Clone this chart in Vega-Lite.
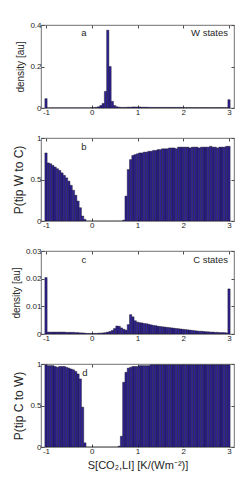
{
  "$schema": "https://vega.github.io/schema/vega-lite/v6.json",
  "padding": {"top": 20, "left": 11, "right": 6, "bottom": 5},
  "spacing": 30,
  "bounds": "flush",
  "config": {
    "view": {"stroke": "#4d4d4d", "strokeWidth": 0.8},
    "font": "Liberation Sans",
    "axis": {"grid": false, "domain": false, "tickColor": "#4d4d4d", "tickSize": -3, "labelFontSize": 8, "labelColor": "#262626", "labelPadding": 3, "titleFontSize": 10, "titleFontWeight": "normal", "titleColor": "#262626", "labelFont": "Liberation Sans", "titleFont": "Liberation Sans"},
    "text": {"font": "Liberation Sans", "fontSize": 9.5, "color": "#262626"}
  },
  "data": {"values": [
    {"x0":-1.025,"x1":-0.975,"w":0.045,"pwc":0.82,"cd":0.0204,"pcw":0.99},
    {"x0":-0.975,"x1":-0.925,"w":0.001,"pwc":0.70,"cd":0.0007,"pcw":0.98},
    {"x0":-0.925,"x1":-0.875,"w":0.001,"pwc":0.69,"cd":0.0007,"pcw":0.98},
    {"x0":-0.875,"x1":-0.825,"w":0.001,"pwc":0.67,"cd":0.0007,"pcw":0.98},
    {"x0":-0.825,"x1":-0.775,"w":0.001,"pwc":0.65,"cd":0.0007,"pcw":0.97},
    {"x0":-0.775,"x1":-0.725,"w":0.001,"pwc":0.63,"cd":0.0007,"pcw":0.96},
    {"x0":-0.725,"x1":-0.675,"w":0.001,"pwc":0.61,"cd":0.0007,"pcw":0.97},
    {"x0":-0.675,"x1":-0.625,"w":0.001,"pwc":0.58,"cd":0.0007,"pcw":0.97},
    {"x0":-0.625,"x1":-0.575,"w":0.001,"pwc":0.55,"cd":0.0007,"pcw":0.97},
    {"x0":-0.575,"x1":-0.525,"w":0.001,"pwc":0.52,"cd":0.0006,"pcw":0.96},
    {"x0":-0.525,"x1":-0.475,"w":0.001,"pwc":0.48,"cd":0.0006,"pcw":0.95},
    {"x0":-0.475,"x1":-0.425,"w":0.001,"pwc":0.43,"cd":0.0006,"pcw":0.94},
    {"x0":-0.425,"x1":-0.375,"w":0.001,"pwc":0.37,"cd":0.0006,"pcw":0.93},
    {"x0":-0.375,"x1":-0.325,"w":0.001,"pwc":0.31,"cd":0.0005,"pcw":0.91},
    {"x0":-0.325,"x1":-0.275,"w":0.001,"pwc":0.24,"cd":0.0005,"pcw":0.88},
    {"x0":-0.275,"x1":-0.225,"w":0.001,"pwc":0.16,"cd":0.0004,"pcw":0.82},
    {"x0":-0.225,"x1":-0.175,"w":0.001,"pwc":0.06,"cd":0.0004,"pcw":0.48},
    {"x0":-0.175,"x1":-0.125,"w":0.001,"pwc":0.02,"cd":0.0003,"pcw":0.05},
    {"x0":-0.125,"x1":-0.075,"w":0.001,"pwc":0,"cd":0.0002,"pcw":0},
    {"x0":-0.075,"x1":-0.025,"w":0.001,"pwc":0,"cd":0.0002,"pcw":0},
    {"x0":-0.025,"x1":0.025,"w":0.002,"pwc":0,"cd":0.0002,"pcw":0},
    {"x0":0.025,"x1":0.075,"w":0.002,"pwc":0,"cd":0.0002,"pcw":0},
    {"x0":0.075,"x1":0.125,"w":0.003,"pwc":0,"cd":0.0002,"pcw":0},
    {"x0":0.125,"x1":0.175,"w":0.006,"pwc":0,"cd":0.0003,"pcw":0},
    {"x0":0.175,"x1":0.225,"w":0.012,"pwc":0,"cd":0.0003,"pcw":0},
    {"x0":0.225,"x1":0.275,"w":0.022,"pwc":0,"cd":0.0004,"pcw":0},
    {"x0":0.275,"x1":0.325,"w":0.08,"pwc":0,"cd":0.0005,"pcw":0},
    {"x0":0.325,"x1":0.375,"w":0.375,"pwc":0,"cd":0.0007,"pcw":0},
    {"x0":0.375,"x1":0.425,"w":0.2,"pwc":0,"cd":0.0009,"pcw":0},
    {"x0":0.425,"x1":0.475,"w":0.032,"pwc":0,"cd":0.0013,"pcw":0},
    {"x0":0.475,"x1":0.525,"w":0.012,"pwc":0,"cd":0.0020,"pcw":0},
    {"x0":0.525,"x1":0.575,"w":0.006,"pwc":0,"cd":0.0029,"pcw":0},
    {"x0":0.575,"x1":0.625,"w":0.004,"pwc":0,"cd":0.0028,"pcw":0.01},
    {"x0":0.625,"x1":0.675,"w":0.003,"pwc":0,"cd":0.0022,"pcw":0.13},
    {"x0":0.675,"x1":0.725,"w":0.003,"pwc":0.01,"cd":0.0017,"pcw":0.78},
    {"x0":0.725,"x1":0.775,"w":0.003,"pwc":0.30,"cd":0.0014,"pcw":0.90},
    {"x0":0.775,"x1":0.825,"w":0.004,"pwc":0.62,"cd":0.0034,"pcw":0.95},
    {"x0":0.825,"x1":0.875,"w":0.004,"pwc":0.74,"cd":0.0070,"pcw":0.96},
    {"x0":0.875,"x1":0.925,"w":0.005,"pwc":0.79,"cd":0.0062,"pcw":0.97},
    {"x0":0.925,"x1":0.975,"w":0.005,"pwc":0.80,"cd":0.0048,"pcw":0.97},
    {"x0":0.975,"x1":1.025,"w":0.005,"pwc":0.81,"cd":0.0043,"pcw":0.97},
    {"x0":1.025,"x1":1.075,"w":0.005,"pwc":0.82,"cd":0.0041,"pcw":0.98},
    {"x0":1.075,"x1":1.125,"w":0.004,"pwc":0.82,"cd":0.0040,"pcw":0.98},
    {"x0":1.125,"x1":1.175,"w":0.004,"pwc":0.83,"cd":0.0038,"pcw":0.98},
    {"x0":1.175,"x1":1.225,"w":0.004,"pwc":0.83,"cd":0.0037,"pcw":0.98},
    {"x0":1.225,"x1":1.275,"w":0.003,"pwc":0.84,"cd":0.0035,"pcw":0.98},
    {"x0":1.275,"x1":1.325,"w":0.003,"pwc":0.84,"cd":0.0033,"pcw":0.99},
    {"x0":1.325,"x1":1.375,"w":0.003,"pwc":0.85,"cd":0.0031,"pcw":0.99},
    {"x0":1.375,"x1":1.425,"w":0.003,"pwc":0.85,"cd":0.0030,"pcw":0.99},
    {"x0":1.425,"x1":1.475,"w":0.003,"pwc":0.86,"cd":0.0028,"pcw":0.99},
    {"x0":1.475,"x1":1.525,"w":0.003,"pwc":0.86,"cd":0.0027,"pcw":0.99},
    {"x0":1.525,"x1":1.575,"w":0.003,"pwc":0.87,"cd":0.0026,"pcw":0.99},
    {"x0":1.575,"x1":1.625,"w":0.003,"pwc":0.87,"cd":0.0025,"pcw":0.99},
    {"x0":1.625,"x1":1.675,"w":0.003,"pwc":0.87,"cd":0.0024,"pcw":0.99},
    {"x0":1.675,"x1":1.725,"w":0.003,"pwc":0.88,"cd":0.0023,"pcw":0.99},
    {"x0":1.725,"x1":1.775,"w":0.003,"pwc":0.88,"cd":0.0022,"pcw":0.99},
    {"x0":1.775,"x1":1.825,"w":0.003,"pwc":0.88,"cd":0.0021,"pcw":0.99},
    {"x0":1.825,"x1":1.875,"w":0.003,"pwc":0.87,"cd":0.0020,"pcw":0.99},
    {"x0":1.875,"x1":1.925,"w":0.003,"pwc":0.89,"cd":0.0019,"pcw":0.99},
    {"x0":1.925,"x1":1.975,"w":0.003,"pwc":0.89,"cd":0.0018,"pcw":0.99},
    {"x0":1.975,"x1":2.025,"w":0.002,"pwc":0.89,"cd":0.0017,"pcw":0.99},
    {"x0":2.025,"x1":2.075,"w":0.002,"pwc":0.89,"cd":0.0016,"pcw":0.99},
    {"x0":2.075,"x1":2.125,"w":0.002,"pwc":0.89,"cd":0.0015,"pcw":0.99},
    {"x0":2.125,"x1":2.175,"w":0.002,"pwc":0.88,"cd":0.0014,"pcw":0.99},
    {"x0":2.175,"x1":2.225,"w":0.002,"pwc":0.89,"cd":0.0013,"pcw":0.99},
    {"x0":2.225,"x1":2.275,"w":0.002,"pwc":0.89,"cd":0.0012,"pcw":0.99},
    {"x0":2.275,"x1":2.325,"w":0.002,"pwc":0.89,"cd":0.0011,"pcw":0.99},
    {"x0":2.325,"x1":2.375,"w":0.002,"pwc":0.88,"cd":0.0010,"pcw":0.99},
    {"x0":2.375,"x1":2.425,"w":0.002,"pwc":0.89,"cd":0.0010,"pcw":0.99},
    {"x0":2.425,"x1":2.475,"w":0.002,"pwc":0.89,"cd":0.0009,"pcw":0.99},
    {"x0":2.475,"x1":2.525,"w":0.002,"pwc":0.89,"cd":0.0008,"pcw":0.99},
    {"x0":2.525,"x1":2.575,"w":0.002,"pwc":0.89,"cd":0.0008,"pcw":0.99},
    {"x0":2.575,"x1":2.625,"w":0.002,"pwc":0.90,"cd":0.0007,"pcw":0.99},
    {"x0":2.625,"x1":2.675,"w":0.002,"pwc":0.89,"cd":0.0007,"pcw":0.99},
    {"x0":2.675,"x1":2.725,"w":0.002,"pwc":0.89,"cd":0.0006,"pcw":0.99},
    {"x0":2.725,"x1":2.775,"w":0.002,"pwc":0.88,"cd":0.0006,"pcw":0.99},
    {"x0":2.775,"x1":2.825,"w":0.002,"pwc":0.89,"cd":0.0005,"pcw":0.99},
    {"x0":2.825,"x1":2.875,"w":0.002,"pwc":0.89,"cd":0.0005,"pcw":0.99},
    {"x0":2.875,"x1":2.925,"w":0.002,"pwc":0.89,"cd":0.0005,"pcw":0.99},
    {"x0":2.925,"x1":2.975,"w":0.002,"pwc":0.90,"cd":0.0004,"pcw":0.99},
    {"x0":2.975,"x1":3.025,"w":0.04,"pwc":0.90,"cd":0.0163,"pcw":0.99}
  ]},
  "vconcat": [
    {
      "width": 193, "height": 83,
      "resolve": {"axis": {"x": "independent", "y": "independent"}},
      "layer": [
        {
          "mark": {"type": "bar", "orient": "vertical", "clip": true, "fill": "#2f2196", "stroke": "#111111", "strokeWidth": 0.4},
          "encoding": {
            "x": {"field": "x0", "type": "quantitative", "scale": {"domain": [-1, 3], "nice": false, "zero": false}, "axis": {"values": [-1, 0, 1, 2, 3], "labelExpr": "'' + datum.value", "title": null}},
            "x2": {"field": "x1"},
            "y": {"field": "w", "type": "quantitative", "scale": {"domain": [0, 0.4], "nice": false}, "axis": {"values": [0, 0.2, 0.4], "labelExpr": "'' + datum.value", "title": "density [au]"}},
            "y2": {"datum": 0}
          }
        },
        {
          "data": {"values": [{}]},
          "mark": {"type": "point", "opacity": 0},
          "encoding": {
            "x": {"datum": 0, "type": "quantitative", "axis": {"orient": "top", "values": [-1, 0, 1, 2, 3], "labels": false, "title": null}},
            "y": {"datum": 0, "type": "quantitative", "axis": {"orient": "right", "values": [0, 0.2, 0.4], "labels": false, "title": null}}
          }
        },
        {
          "data": {"values": [{}]},
          "mark": {"type": "text", "align": "center", "baseline": "middle"},
          "encoding": {"x": {"datum": -0.17, "type": "quantitative", "axis": null}, "y": {"datum": 0.36, "type": "quantitative", "axis": null}, "text": {"value": "a"}}
        },
        {
          "data": {"values": [{}]},
          "mark": {"type": "text", "align": "right", "baseline": "middle", "dx": -1},
          "encoding": {"x": {"datum": 3, "type": "quantitative", "axis": null}, "y": {"datum": 0.36, "type": "quantitative", "axis": null}, "text": {"value": "W states"}}
        }
      ]
    },
    {
      "width": 193, "height": 83,
      "resolve": {"axis": {"x": "independent", "y": "independent"}},
      "layer": [
        {
          "mark": {"type": "bar", "orient": "vertical", "clip": true, "fill": "#2f2196", "stroke": "#111111", "strokeWidth": 0.4},
          "encoding": {
            "x": {"field": "x0", "type": "quantitative", "scale": {"domain": [-1, 3], "nice": false, "zero": false}, "axis": {"values": [-1, 0, 1, 2, 3], "labelExpr": "'' + datum.value", "title": null}},
            "x2": {"field": "x1"},
            "y": {"field": "pwc", "type": "quantitative", "scale": {"domain": [0, 1], "nice": false}, "axis": {"values": [0, 0.5, 1], "labelExpr": "'' + datum.value", "title": "P(tip W to C)", "titleFontSize": 12}},
            "y2": {"datum": 0}
          }
        },
        {
          "data": {"values": [{}]},
          "mark": {"type": "point", "opacity": 0},
          "encoding": {
            "x": {"datum": 0, "type": "quantitative", "axis": {"orient": "top", "values": [-1, 0, 1, 2, 3], "labels": false, "title": null}},
            "y": {"datum": 0, "type": "quantitative", "axis": {"orient": "right", "values": [0, 0.5, 1], "labels": false, "title": null}}
          }
        },
        {
          "data": {"values": [{}]},
          "mark": {"type": "text", "align": "center", "baseline": "middle"},
          "encoding": {"x": {"datum": -0.17, "type": "quantitative", "axis": null}, "y": {"datum": 0.89, "type": "quantitative", "axis": null}, "text": {"value": "b"}}
        }
      ]
    },
    {
      "width": 193, "height": 83,
      "resolve": {"axis": {"x": "independent", "y": "independent"}},
      "layer": [
        {
          "mark": {"type": "bar", "orient": "vertical", "clip": true, "fill": "#2f2196", "stroke": "#111111", "strokeWidth": 0.4},
          "encoding": {
            "x": {"field": "x0", "type": "quantitative", "scale": {"domain": [-1, 3], "nice": false, "zero": false}, "axis": {"values": [-1, 0, 1, 2, 3], "labelExpr": "'' + datum.value", "title": null}},
            "x2": {"field": "x1"},
            "y": {"field": "cd", "type": "quantitative", "scale": {"domain": [0, 0.03], "nice": false}, "axis": {"values": [0, 0.01, 0.02, 0.03], "labelExpr": "'' + datum.value", "title": "density [au]"}},
            "y2": {"datum": 0}
          }
        },
        {
          "data": {"values": [{}]},
          "mark": {"type": "point", "opacity": 0},
          "encoding": {
            "x": {"datum": 0, "type": "quantitative", "axis": {"orient": "top", "values": [-1, 0, 1, 2, 3], "labels": false, "title": null}},
            "y": {"datum": 0, "type": "quantitative", "axis": {"orient": "right", "values": [0, 0.01, 0.02, 0.03], "labels": false, "title": null}}
          }
        },
        {
          "data": {"values": [{}]},
          "mark": {"type": "text", "align": "center", "baseline": "middle"},
          "encoding": {"x": {"datum": -0.17, "type": "quantitative", "axis": null}, "y": {"datum": 0.0267, "type": "quantitative", "axis": null}, "text": {"value": "c"}}
        },
        {
          "data": {"values": [{}]},
          "mark": {"type": "text", "align": "right", "baseline": "middle", "dx": -1},
          "encoding": {"x": {"datum": 3, "type": "quantitative", "axis": null}, "y": {"datum": 0.0267, "type": "quantitative", "axis": null}, "text": {"value": "C states"}}
        }
      ]
    },
    {
      "width": 193, "height": 83,
      "resolve": {"axis": {"x": "independent", "y": "independent"}},
      "layer": [
        {
          "mark": {"type": "bar", "orient": "vertical", "clip": true, "fill": "#2f2196", "stroke": "#111111", "strokeWidth": 0.4},
          "encoding": {
            "x": {"field": "x0", "type": "quantitative", "scale": {"domain": [-1, 3], "nice": false, "zero": false}, "axis": {"values": [-1, 0, 1, 2, 3], "labelExpr": "'' + datum.value", "title": "S[CO₂,LI] [K/(Wm⁻²)]", "titleFontSize": 11}},
            "x2": {"field": "x1"},
            "y": {"field": "pcw", "type": "quantitative", "scale": {"domain": [0, 1], "nice": false}, "axis": {"values": [0, 0.5, 1], "labelExpr": "'' + datum.value", "title": "P(tip C to W)", "titleFontSize": 12}},
            "y2": {"datum": 0}
          }
        },
        {
          "data": {"values": [{}]},
          "mark": {"type": "point", "opacity": 0},
          "encoding": {
            "x": {"datum": 0, "type": "quantitative", "axis": {"orient": "top", "values": [-1, 0, 1, 2, 3], "labels": false, "title": null}},
            "y": {"datum": 0, "type": "quantitative", "axis": {"orient": "right", "values": [0, 0.5, 1], "labels": false, "title": null}}
          }
        },
        {
          "data": {"values": [{}]},
          "mark": {"type": "text", "align": "center", "baseline": "middle"},
          "encoding": {"x": {"datum": -0.15, "type": "quantitative", "axis": null}, "y": {"datum": 0.89, "type": "quantitative", "axis": null}, "text": {"value": "d"}}
        }
      ]
    }
  ]
}
